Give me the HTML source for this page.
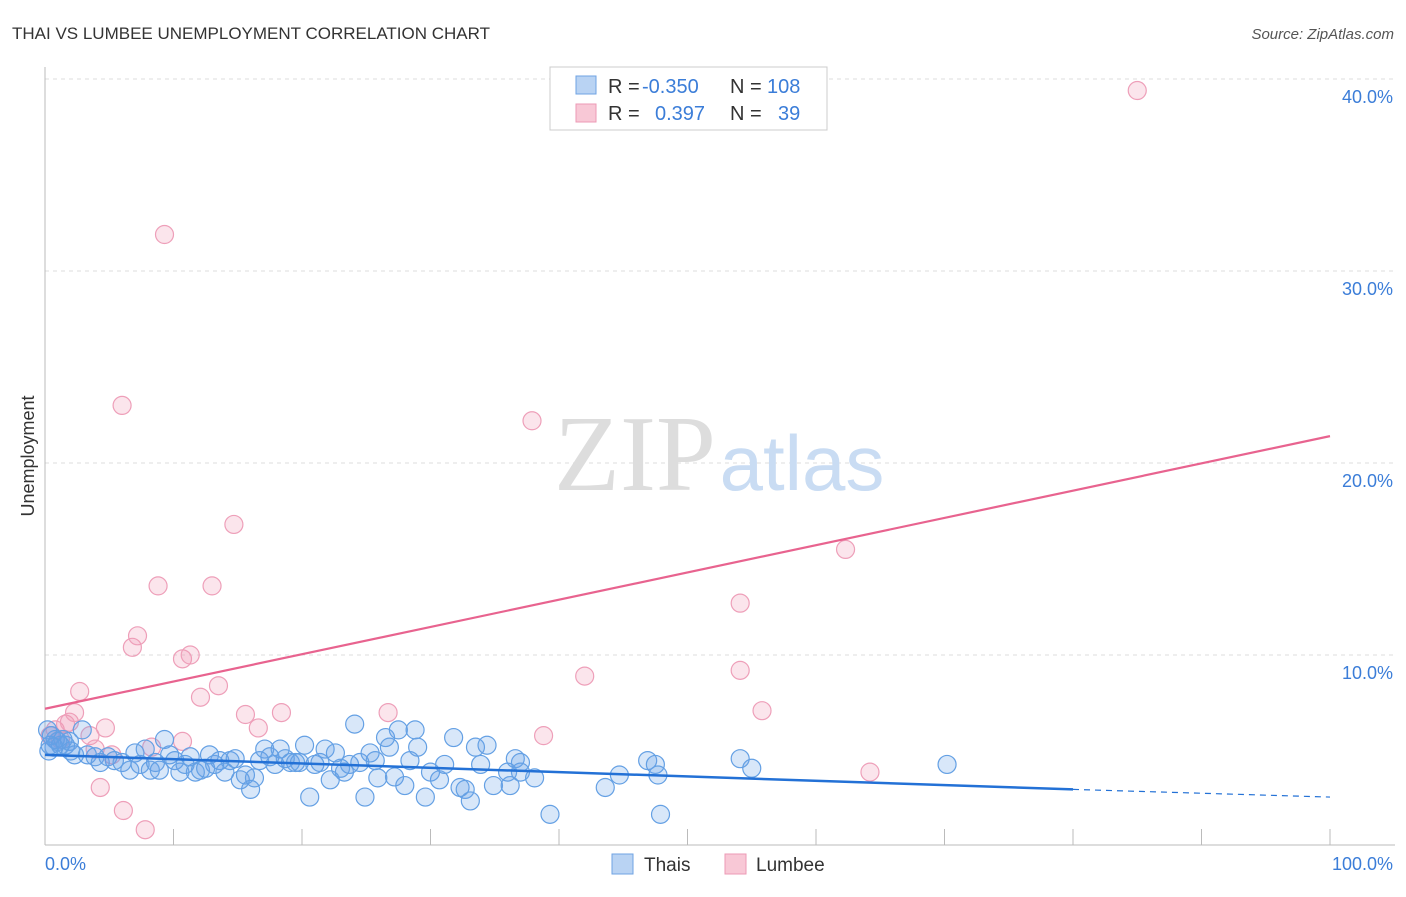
<!DOCTYPE html>
<html><head><meta charset="utf-8"><style>
body{margin:0;background:#fff;font-family:"Liberation Sans",sans-serif}
</style></head><body>
<svg width="1406" height="892" xmlns="http://www.w3.org/2000/svg">
<text x="12" y="39" font-size="17" fill="#333">THAI VS LUMBEE UNEMPLOYMENT CORRELATION CHART</text>
<text x="1394" y="39" font-size="15" fill="#555" text-anchor="end" font-style="italic">Source: ZipAtlas.com</text>
<g id="grid"></g>
<text x="635" y="490" font-size="108" font-family="Liberation Serif,serif" fill="#ddd" text-anchor="middle">ZIP</text>
<text x="802" y="490" font-size="78" fill="#c9dcf3" text-anchor="middle">atlas</text>
<line x1="45" y1="67" x2="45" y2="845" stroke="#bbb"/>
<line x1="45" y1="845" x2="1395" y2="845" stroke="#bbb"/>
<g id="xticks"></g>
<text x="34" y="456" font-size="18" fill="#333" transform="rotate(-90 34 456)" text-anchor="middle">Unemployment</text>
<text x="45" y="870" font-size="18" fill="#3b7dd8">0.0%</text>
<text x="1393" y="870" font-size="18" fill="#3b7dd8" text-anchor="end">100.0%</text>
<g id="pts"></g>
<g id="trends"></g>
<g>
<rect x="550" y="67" width="277" height="63" fill="#fff" stroke="#ccc"/>
<rect x="576" y="76" width="20" height="18" fill="#b9d3f3" stroke="#6fa3e3"/>
<rect x="576" y="104" width="20" height="18" fill="#f8c8d6" stroke="#ec9ab5"/>
<text x="608" y="93" font-size="20" fill="#333">R = <tspan x="642" fill="#3b7dd8">-0.350</tspan><tspan x="730">N = </tspan><tspan x="767" fill="#3b7dd8">108</tspan></text>
<text x="608" y="120" font-size="20" fill="#333">R = <tspan x="655" fill="#3b7dd8">0.397</tspan><tspan x="730">N = </tspan><tspan x="778" fill="#3b7dd8">39</tspan></text>
</g>
<g>
<rect x="612" y="854" width="21" height="20" fill="#b9d3f3" stroke="#6fa3e3"/>
<text x="644" y="871" font-size="19" fill="#333">Thais</text>
<rect x="725" y="854" width="21" height="20" fill="#f8c8d6" stroke="#ec9ab5"/>
<text x="756" y="871" font-size="19" fill="#333">Lumbee</text>
</g>
</svg>
<script>
const yTicks=[10,20,30,40];
const yTickLabels=["10.0%","20.0%","30.0%","40.0%"];
const xTicks=[10,20,30,40,50,60,70,80,90,100];
const thaisX=[0.2,0.4,0.8,1.2,1.6,1.9,2.3,2.9,3.3,3.9,4.3,4.9,5.4,6.0,6.6,7.0,7.4,7.8,8.2,8.6,8.9,9.3,9.7,10.1,10.5,10.9,11.3,11.7,12.1,12.5,12.8,13.2,13.6,14.0,14.4,14.8,15.2,15.6,16.0,16.3,16.7,17.1,17.5,17.9,18.3,18.7,19.1,19.5,19.8,20.2,20.6,21.0,21.4,21.8,22.2,22.6,23.0,23.3,23.7,24.1,24.5,24.9,25.3,25.7,25.9,26.5,26.8,27.2,27.5,28.0,28.4,28.8,29.0,29.6,30.0,30.7,31.1,31.8,32.3,32.7,33.1,33.5,33.9,34.4,34.9,36.0,36.6,37.0,37.0,36.2,38.1,39.3,43.6,44.7,46.9,47.5,47.7,47.9,54.1,55.0,70.2,0.5,1.0,0.3,2.0,1.4,0.7];
const thaisY=[6.1,5.3,5.6,5.3,5.3,5.5,4.8,6.1,4.8,4.7,4.4,4.7,4.5,4.4,4.0,4.9,4.3,5.1,4.0,4.4,4.0,5.6,4.8,4.5,3.9,4.3,4.7,3.9,4.0,4.1,4.8,4.3,4.5,3.9,4.5,4.6,3.5,3.75,3.0,3.6,4.5,5.1,4.7,4.3,5.1,4.6,4.4,4.4,4.4,5.3,2.6,4.3,4.4,5.1,3.5,4.9,4.1,3.9,4.3,6.4,4.4,2.6,4.9,4.5,3.6,5.7,5.2,3.65,6.1,3.2,4.5,6.1,5.2,2.6,3.9,3.5,4.3,5.7,3.1,3.0,2.4,5.2,4.3,5.3,3.2,3.9,4.6,3.9,4.4,3.2,3.6,1.7,3.1,3.75,4.5,4.3,3.75,1.7,4.6,4.1,4.3,5.8,5.5,5.0,5.0,5.6,5.2];
const lumbeeX=[0.4,0.8,1.2,1.6,1.9,2.3,2.7,3.5,3.9,4.3,4.7,5.2,6.0,6.1,6.8,7.2,7.8,8.3,8.8,9.3,10.7,10.7,11.3,12.1,13.0,13.5,14.7,15.6,16.6,18.4,26.7,37.9,38.8,42.0,54.1,54.1,55.8,62.3,64.2,85.0];
const lumbeeY=[5.8,6.1,5.6,6.4,6.5,7.0,8.1,5.8,5.1,3.1,6.2,4.8,23.0,1.9,10.4,11.0,0.9,5.2,13.6,31.9,5.5,9.8,10.0,7.8,13.6,8.4,16.8,6.9,6.2,7.0,7.0,22.2,5.8,8.9,12.7,9.2,7.1,15.5,3.9,39.4];
const thaisTrend=[4.8,3.0,2.6]; const thaisTrendX=[0,80,100];
const lumbeeTrend=[7.2,21.4]; const lumbeeTrendX=[0,100];
const NS="http://www.w3.org/2000/svg";
const sx=v=>45+v*12.85, sy=v=>847-v*19.2;
function mk(tag,attrs,parent){const e=document.createElementNS(NS,tag);for(const k in attrs)e.setAttribute(k,attrs[k]);parent.appendChild(e);return e;}
const grid=document.getElementById('grid');
yTicks.forEach((t,i)=>{
 const l=mk('line',{x1:45,x2:1395,y1:sy(t),y2:sy(t),stroke:'#ddd','stroke-dasharray':'4,4'},grid);
 
 
 const tx=mk('text',{x:1393,y:sy(t)+24,'font-size':18,fill:'#3b7dd8','text-anchor':'end'},grid);
 tx.textContent=yTickLabels[i];
 
 
});
const xt=document.getElementById('xticks');
xTicks.forEach(t=>{
 const l=mk('line',{x1:sx(t),x2:sx(t),y1:829,y2:845,stroke:'#bbb'},xt);
 
 
});
const pts=document.getElementById('pts');
lumbeeX.forEach((x,i)=>{
 const c=mk('circle',{cx:sx(x),cy:sy(lumbeeY[i]),r:9,fill:'rgba(240,150,180,0.25)',stroke:'#ee9fb9','stroke-width':1.2},pts);
 
 
});
thaisX.forEach((x,i)=>{
 const c=mk('circle',{cx:sx(x),cy:sy(thaisY[i]),r:9,fill:'rgba(100,160,230,0.25)',stroke:'#64a0e4','stroke-width':1.2},pts);
 
 
});
const tr=document.getElementById('trends');
const pl=mk('line',{x1:sx(lumbeeTrendX[0]),y1:sy(lumbeeTrend[0]),x2:sx(lumbeeTrendX[1]),y2:sy(lumbeeTrend[1]),stroke:'#e8638f','stroke-width':2.2},tr);


const bl=mk('line',{x1:sx(thaisTrendX[0]),y1:sy(thaisTrend[0]),x2:sx(thaisTrendX[1]),y2:sy(thaisTrend[1]),stroke:'#2371d6','stroke-width':2.5},tr);


const bd=mk('line',{x1:sx(thaisTrendX[1]),y1:sy(thaisTrend[1]),x2:sx(thaisTrendX[2]),y2:sy(thaisTrend[2]),stroke:'#2371d6','stroke-width':1.2,'stroke-dasharray':'6,5'},tr);


</script>
</body></html>
